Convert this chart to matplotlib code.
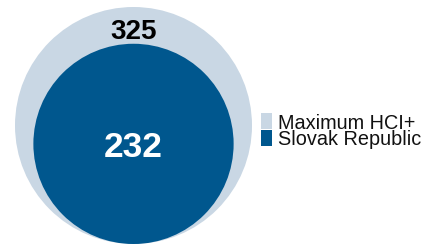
import matplotlib
matplotlib.use("Agg")
import matplotlib.pyplot as plt
from matplotlib.patches import Circle, Rectangle
import numpy as np

labels = ["Maximum HCI+", "Slovak Republic"]
values = [325, 232]
colors = ["#c9d7e4", "#00578e"]

plt.rcParams['font.family'] = ['Liberation Sans', 'DejaVu Sans']

W, H = 428, 246
fig = plt.figure(figsize=(W / 100, H / 100), dpi=100)
ax = fig.add_axes([0, 0, 1, 1])
ax.set_xlim(0, W)
ax.set_ylim(H, 0)
ax.set_aspect('equal')
ax.axis('off')

R = 118.5
cx = 133.5
bottom = 244
vmax = max(values)
for v, c in zip(values, colors):
    r = R * np.sqrt(v / vmax)
    ax.add_patch(Circle((cx, bottom - r), r, facecolor=c, edgecolor='none'))

ax.text(cx, 39, str(values[0]), ha='center', va='baseline', fontsize=20,
        fontweight='bold', color='black')
ax.text(cx, 157, str(values[1]), ha='center', va='baseline', fontsize=25.5,
        fontweight='bold', color='white')

# legend
box_x, box_w, box_h = 261, 11.5, 15.5
row_top = [113, 130]
baselines = [128.7, 145.3]
for lab, c, top, base in zip(labels, colors, row_top, baselines):
    ax.add_patch(Rectangle((box_x, top), box_w, box_h, facecolor=c, edgecolor='none'))
    ax.text(278, base, lab, ha='left', va='baseline', fontsize=14.3, color='#111111')

fig.savefig("out.png", dpi=100)
